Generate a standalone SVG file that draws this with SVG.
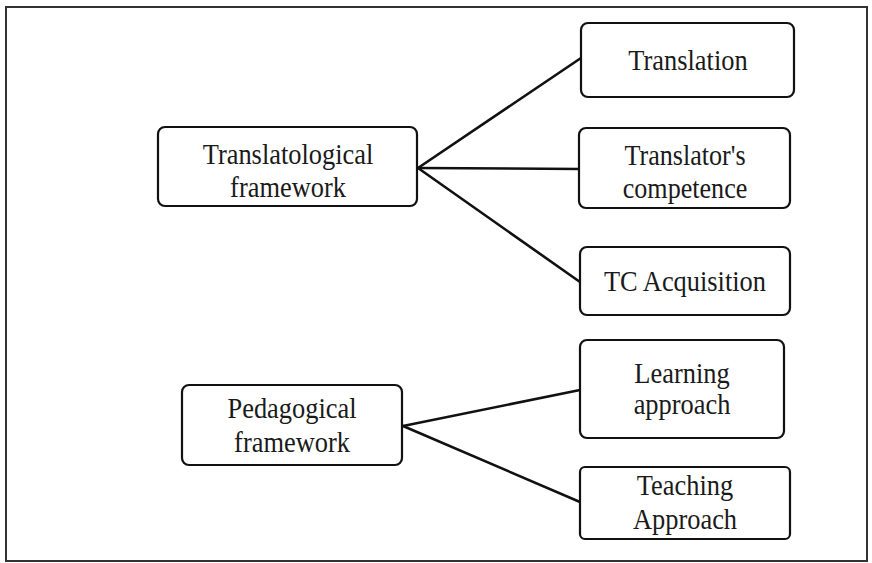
<svg xmlns="http://www.w3.org/2000/svg" width="872" height="563" viewBox="0 0 872 563">
<style>
.box{fill:#fff;stroke:#111;stroke-width:2.2}
.t{font-family:"Liberation Serif","Times New Roman",serif;font-size:30px;fill:#1a1a1a;text-anchor:middle}
.c{stroke:#111;stroke-width:2.6;fill:none;stroke-linecap:round}
</style>
<rect x="0" y="0" width="872" height="563" fill="#fff"/>
<rect x="6" y="7" width="861" height="554" fill="none" stroke="#333" stroke-width="2"/>
<g id="connectors">
<line class="c" x1="418" y1="168" x2="581" y2="58"/>
<line class="c" x1="418" y1="168" x2="580" y2="169"/>
<line class="c" x1="418" y1="168" x2="580" y2="282"/>
<line class="c" x1="403" y1="426" x2="580" y2="390"/>
<line class="c" x1="403" y1="426" x2="580" y2="502"/>
</g>
<g id="translatological">
<rect class="box" x="158" y="127" width="259" height="79" rx="7"/>
<text class="t" transform="translate(288 164) scale(0.88 1)">Translatological</text>
<text class="t" transform="translate(288 197) scale(0.88 1)">framework</text>
</g>
<g id="translation">
<rect class="box" x="581" y="23" width="213" height="74" rx="7"/>
<text class="t" transform="translate(688 70) scale(0.88 1)">Translation</text>
</g>
<g id="competence">
<rect class="box" x="579" y="128" width="211" height="80" rx="7"/>
<text class="t" style="font-size:29px" transform="translate(685 165) scale(0.9 1)">Translator's</text>
<text class="t" style="font-size:29px" transform="translate(685 198) scale(0.9 1)">competence</text>
</g>
<g id="tcacq">
<rect class="box" x="580" y="247" width="210" height="68" rx="7"/>
<text class="t" transform="translate(685 291) scale(0.88 1)">TC Acquisition</text>
</g>
<g id="pedagogical">
<rect class="box" x="182" y="385" width="220" height="80" rx="7"/>
<text class="t" transform="translate(292 418) scale(0.88 1)">Pedagogical</text>
<text class="t" transform="translate(292 452) scale(0.88 1)">framework</text>
</g>
<g id="learning">
<rect class="box" x="580" y="340" width="204" height="98" rx="7"/>
<text class="t" transform="translate(682 383) scale(0.88 1)">Learning</text>
<text class="t" transform="translate(682 414) scale(0.88 1)">approach</text>
</g>
<g id="teaching">
<rect class="box" x="580" y="467" width="210" height="72" rx="5"/>
<text class="t" transform="translate(685 495) scale(0.88 1)">Teaching</text>
<text class="t" transform="translate(685 529) scale(0.88 1)">Approach</text>
</g>
</svg>
